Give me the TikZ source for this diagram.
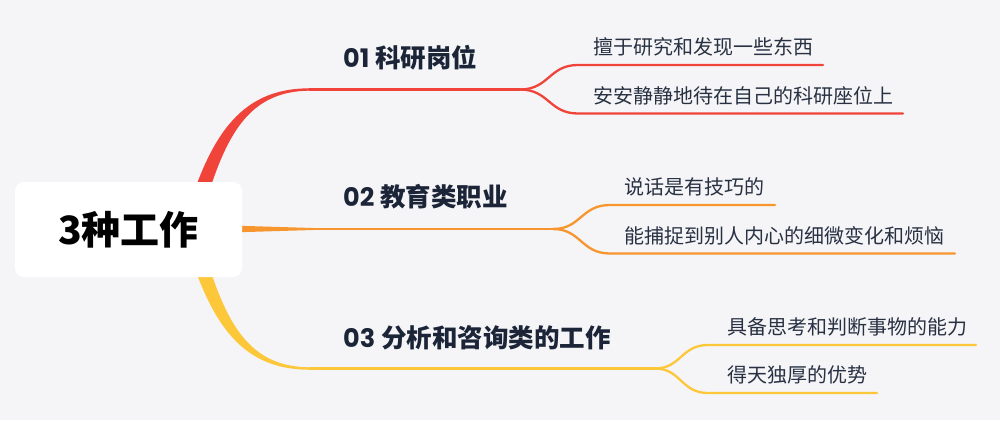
\documentclass[tikz,border=0pt]{standalone}
\usepackage{fontspec}
\newfontfamily\cjk{Noto Sans CJK SC}
\newfontfamily\pop{Poppins}
\definecolor{bg}{HTML}{F5F5F8}
\definecolor{cred}{HTML}{F0443A}
\definecolor{corange}{HTML}{F7962E}
\definecolor{cyellow}{HTML}{FDC73A}
\definecolor{navy}{HTML}{1B2537}
\definecolor{subtxt}{HTML}{283142}
\begin{document}
\begin{tikzpicture}[x=1pt,y=-1pt,
  rootbox/.style={fill=white, rounded corners=9pt, minimum width=227pt, minimum height=95pt, inner sep=0pt, font=\cjk\bfseries\fontsize{39}{40}\selectfont, text=black},
  lab/.style={anchor=west, inner sep=0pt, font=\cjk\bfseries\fontsize{25.5}{27}\selectfont, text=navy},
  subl/.style={anchor=west, inner sep=0pt, font=\cjk\fontsize{20}{22}\selectfont, text=subtxt},
  thinline/.style={line width=2.3pt, line cap=round}
]
\useasboundingbox (0,0) rectangle (1000,420);
\fill[bg] (0,0) rectangle (1000,420);

% coordinates
\coordinate (rj) at (520,89.5);
\coordinate (rt) at (578,65);
\coordinate (rb) at (578,113.5);
\coordinate (rte) at (823,65);
\coordinate (rbe) at (903,113.5);
\coordinate (oj) at (553,229);
\coordinate (ot) at (610,205);
\coordinate (ob) at (610,253.5);
\coordinate (ote) at (775,205);
\coordinate (obe) at (955,253.5);
\coordinate (yj) at (655,368.5);
\coordinate (yt) at (708,345);
\coordinate (yb) at (708,393);
\coordinate (yte) at (976,345);
\coordinate (ybe) at (877,393);

% tapered main branches
\fill[cred] (182,229) .. controls (208,140) and (237,88.1) .. (310,88.3) -- (310,90.7) .. controls (243,90.9) and (222,143) .. (198,229) -- cycle;
\fill[cyellow] (182,229) .. controls (208,318) and (237,369.9) .. (310,369.7) -- (310,367.3) .. controls (243,367.1) and (222,315) .. (198,229) -- cycle;
\fill[corange] (230,225.5) -- (313,228) -- (313,230) -- (230,232.5) -- cycle;

% thin main lines and forks
\draw[cred, thinline] (309,89.5) -- (rj);
\draw[cred, thinline] (rj) .. controls (549,89.5) and (549,65) .. (rt) -- (rte);
\draw[cred, thinline] (rj) .. controls (549,89.5) and (549,113.5) .. (rb) -- (rbe);

\draw[corange, thinline] (312,229) -- (oj);
\draw[corange, thinline] (oj) .. controls (581,229) and (581,205) .. (ot) -- (ote);
\draw[corange, thinline] (oj) .. controls (581,229) and (581,253.5) .. (ob) -- (obe);

\draw[cyellow, thinline] (309,368.5) -- (yj);
\draw[cyellow, thinline] (yj) .. controls (681,368.5) and (681,345) .. (yt) -- (yte);
\draw[cyellow, thinline] (yj) .. controls (681,368.5) and (681,393) .. (yb) -- (ybe);

% root
\node[rootbox] (root) at (128.5,229.5) {3种工作};

% labels
\node[lab] (l1) at (343,58) {{\pop\bfseries 01} 科研岗位};
\node[lab] (l2) at (343,197) {{\pop\bfseries 02} 教育类职业};
\node[lab] (l3) at (343,338) {{\pop\bfseries 03} 分析和咨询类的工作};

% sub items
\node[subl] (s11) at (593,47) {擅于研究和发现一些东西};
\node[subl] (s12) at (593,96) {安安静静地待在自己的科研座位上};
\node[subl] (s21) at (624,187) {说话是有技巧的};
\node[subl] (s22) at (624,236) {能捕捉到别人内心的细微变化和烦恼};
\node[subl] (s31) at (727,327) {具备思考和判断事物的能力};
\node[subl] (s32) at (727,375) {得天独厚的优势};
\end{tikzpicture}
\end{document}
